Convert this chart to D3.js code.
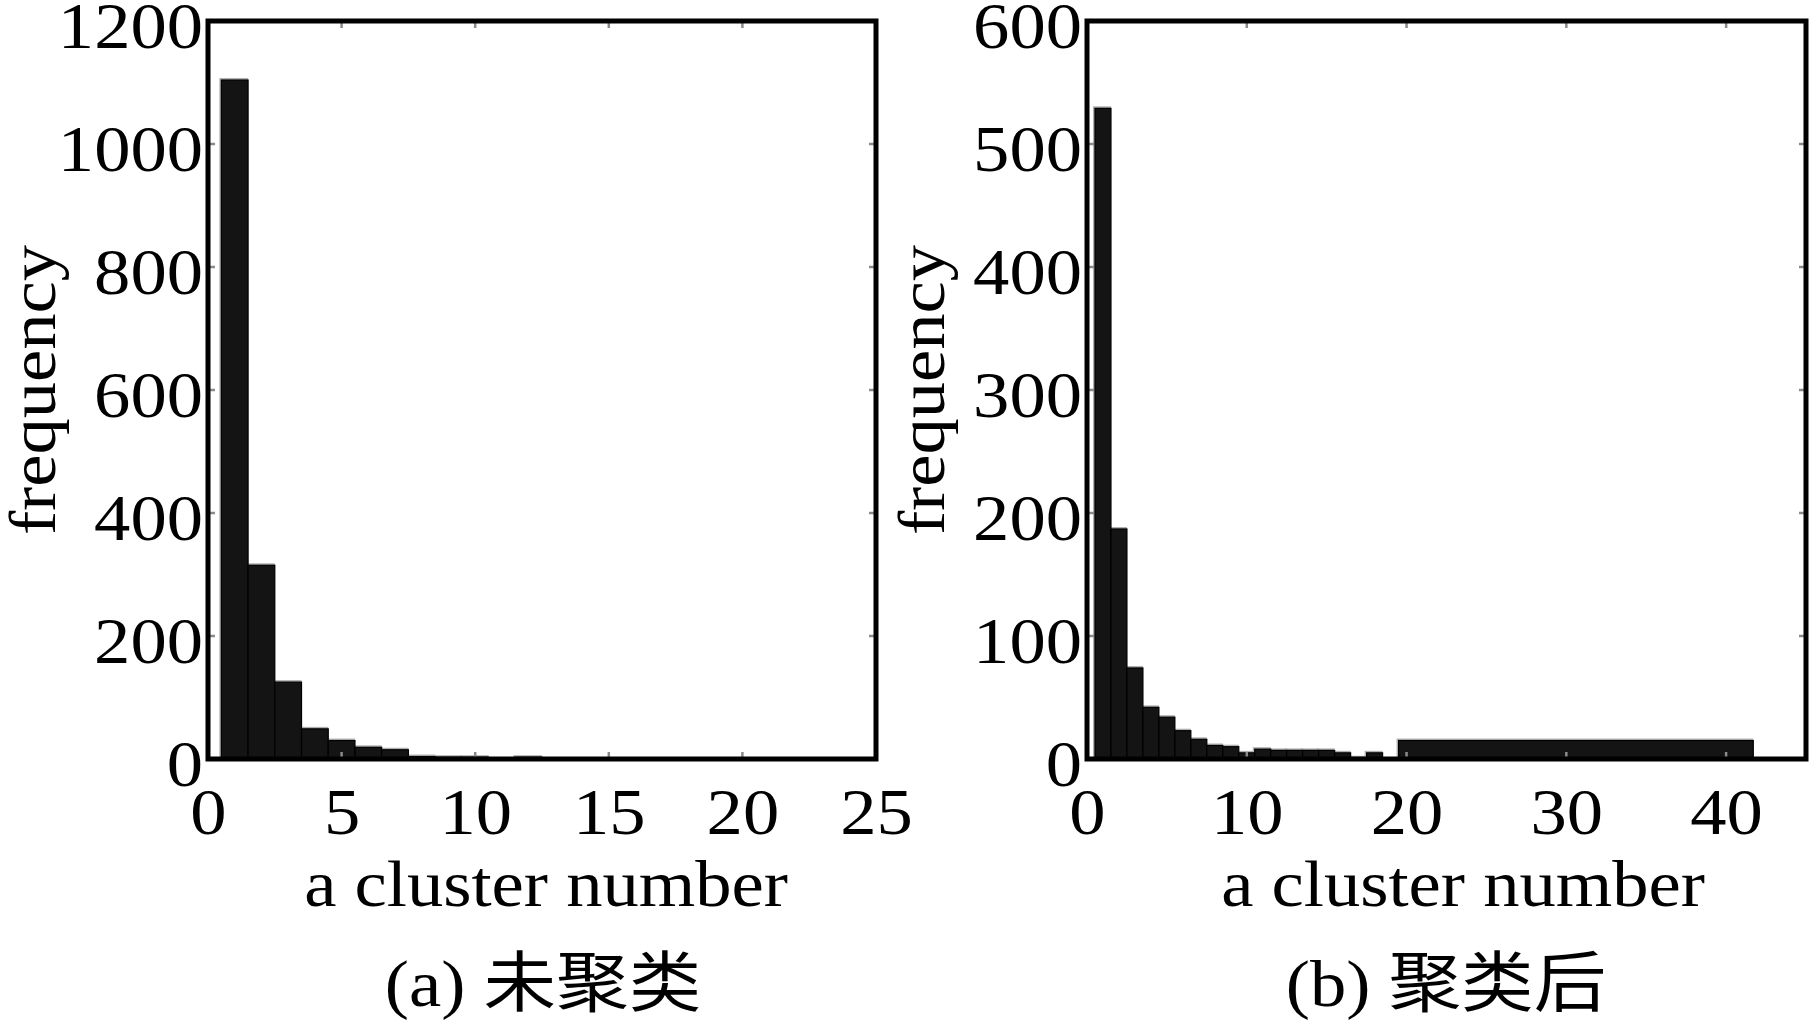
<!DOCTYPE html>
<html><head><meta charset="utf-8">
<script src="https://cdn.jsdelivr.net/npm/d3@7"></script>
<style>
html,body{margin:0;padding:0;background:#fff;}
text{font-family:"Liberation Serif","Noto Sans CJK SC",serif;fill:#000;}
</style></head>
<body>
<svg id="c" width="1814" height="1023"></svg>
<script>
// ---- data ----
const leftBinLo  = [0.5, 1.5, 2.5, 3.5, 4.5, 5.5, 6.5, 7.5, 8.5, 9.5, 10.5, 11.5];
const leftBinHi  = [1.5, 2.5, 3.5, 4.5, 5.5, 6.5, 7.5, 8.5, 9.5, 10.5, 11.5, 12.5];
const leftCounts = [1104, 315, 125, 49, 30, 19, 15, 4, 3, 3, 0, 3];

const rightBinLo  = [0.5, 1.5, 2.5, 3.5, 4.5, 5.5, 6.5, 7.5, 8.5, 9.5, 10.5, 11.5, 12.5, 13.5, 14.5, 15.5, 16.5, 17.5, 18.5, 19.5];
const rightBinHi  = [1.5, 2.5, 3.5, 4.5, 5.5, 6.5, 7.5, 8.5, 9.5, 10.5, 11.5, 12.5, 13.5, 14.5, 15.5, 16.5, 17.5, 18.5, 19.5, 41.7];
const rightCounts = [529, 187, 74, 42, 34, 23, 16, 11, 10, 5, 8, 7, 7, 7, 7, 5, 1, 5, 0, 15];

const leftXTicks  = [0, 5, 10, 15, 20, 25];
const leftYTicks  = [0, 200, 400, 600, 800, 1000, 1200];
const rightXTicks = [0, 10, 20, 30, 40];
const rightYTicks = [0, 100, 200, 300, 400, 500, 600];

const xLabel = "a cluster number";
const yLabel = "frequency";
const captions = ["(a) 未聚类", "(b) 聚类后"];

// ---- drawing ----
const svg = d3.select("#c");
const FS = 66, SX = 1.1;

function stretchText(g, x, y, str, rot){
  return g.append("text")
    .attr("transform",`translate(${x},${y})${rot?" rotate(-90)":""} scale(${SX},1)`)
    .attr("text-anchor","middle").style("font-size",FS+"px").text(str);
}

function panel(opt){
  const {x0,x1,y0,y1,xDom,yDom,xt,yt,lo,hi,counts,cap,xlx,ylx,capx} = opt;
  const x = d3.scaleLinear().domain(xDom).range([x0,x1]);
  const y = d3.scaleLinear().domain(yDom).range([y1,y0]);
  const g = svg.append("g");
  const bins = counts.map((c,i)=>({lo:lo[i],hi:hi[i],c})).filter(d=>d.c>0);
  // halo
  g.selectAll("rect.h").data(bins).enter().append("rect")
    .attr("x",d=>x(d.lo)-2).attr("y",d=>y(d.c)-2)
    .attr("width",d=>x(d.hi)-x(d.lo)+2).attr("height",d=>y(0)-y(d.c)+2)
    .attr("fill","#b0b0b0");
  g.selectAll("rect.b").data(bins).enter().append("rect")
    .attr("x",d=>x(d.lo)).attr("y",d=>y(d.c))
    .attr("width",d=>x(d.hi)-x(d.lo)).attr("height",d=>y(0)-y(d.c))
    .attr("fill","#141414").attr("stroke","#000").attr("stroke-width",1.2);

  // axes via d3 axis generators
  const tl = 7;
  const axB = d3.axisBottom(x).tickValues(xt).tickSize(0).tickPadding(28).tickFormat(d3.format("d"));
  const axL = d3.axisLeft(y).tickValues(yt).tickSize(0).tickPadding(5).tickFormat(d3.format("d"));
  const gb = g.append("g").attr("transform",`translate(0,${y1})`).call(axB);
  const gl = g.append("g").attr("transform",`translate(${x0},0)`).call(axL);
  [gb,gl].forEach(a=>{a.select(".domain").remove();
    a.selectAll("text").style("font-size",FS+"px").style("font-family","Liberation Serif").attr("fill","#000");});
  gb.selectAll("text").attr("dy","0.71em")
    .attr("transform",function(){const yy=+d3.select(this).attr("y");return `translate(0,${yy}) scale(${SX},1) translate(0,${-yy})`;});
  gl.selectAll("text").attr("dy","0.40em").attr("x",0).attr("text-anchor","end")
    .attr("transform",`translate(-5,0) scale(${SX},1)`);
  // inner tick marks
  const tk = g.append("g").attr("stroke","#8a8a8a").attr("stroke-width",2.5);
  xt.forEach(v=>{
    tk.append("line").attr("x1",x(v)).attr("x2",x(v)).attr("y1",y1).attr("y2",y1-tl);
    tk.append("line").attr("x1",x(v)).attr("x2",x(v)).attr("y1",y0).attr("y2",y0+tl);
  });
  yt.forEach(v=>{
    tk.append("line").attr("y1",y(v)).attr("y2",y(v)).attr("x1",x0).attr("x2",x0+tl);
    tk.append("line").attr("y1",y(v)).attr("y2",y(v)).attr("x1",x1).attr("x2",x1-tl);
  });
  // frame
  g.append("rect").attr("x",x0).attr("y",y0).attr("width",x1-x0).attr("height",y1-y0)
    .attr("fill","none").attr("stroke","#000").attr("stroke-width",5);
  // labels
  stretchText(g, xlx, 906, xLabel, false);
  stretchText(g, ylx, (y0+y1)/2, yLabel, true);
  stretchText(g, capx, 1006, cap, false);
}

panel({x0:208,x1:876,y0:21,y1:759,xDom:[0,25],yDom:[0,1200],xt:leftXTicks,yt:leftYTicks,
  lo:leftBinLo,hi:leftBinHi,counts:leftCounts,cap:captions[0],xlx:546,ylx:55,capx:543});
panel({x0:1087,x1:1806,y0:21,y1:759,xDom:[0,45],yDom:[0,600],xt:rightXTicks,yt:rightYTicks,
  lo:rightBinLo,hi:rightBinHi,counts:rightCounts,cap:captions[1],xlx:1463,ylx:944,capx:1446});
</script>
</body></html>
